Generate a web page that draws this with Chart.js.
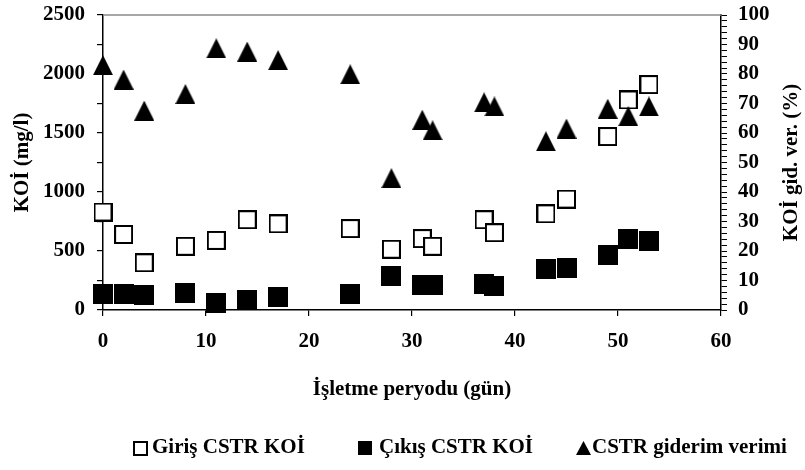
<!DOCTYPE html>
<html><head><meta charset="utf-8">
<script src="https://cdn.jsdelivr.net/npm/chart.js@4.4.1/dist/chart.umd.min.js"></script>
<style>html,body{margin:0;padding:0;background:#fff}#wrap{width:805px;height:470px;position:relative}</style>
</head><body><div id="wrap"><canvas id="c" width="805" height="470"></canvas></div>
<script>
// ---- data ----
const days      = [0, 2, 4, 8, 11, 14, 17, 24, 28, 31, 32, 37, 38, 43, 45, 49, 51, 53];
const girisKOI  = [830, 640, 400, 540, 590, 765, 730, 690, 515, 605, 540, 765, 655, 815, 940, 1470, 1780, 1910];
const cikisKOI  = [136, 136, 129, 141, 62, 87, 108, 136, 286, 213, 209, 223, 201, 346, 356, 463, 604, 585];
const verim     = [83.0, 78.1, 67.6, 73.2, 88.7, 87.6, 84.7, 79.9, 44.7, 64.5, 60.9, 70.4, 69.0, 57.2, 61.5, 68.2, 65.7, 69.0];
const seriesNames = ['Giriş CSTR KOİ', 'Çıkış CSTR KOİ', 'CSTR giderim verimi'];
const xTickLabels     = [0, 10, 20, 30, 40, 50, 60];
const leftTickLabels  = [0, 500, 1000, 1500, 2000, 2500];
const rightTickLabels = [0, 10, 20, 30, 40, 50, 60, 70, 80, 90, 100];
const xTitle = 'İşletme peryodu (gün)';
const yLeftTitle = 'KOİ (mg/l)';
const yRightTitle = 'KOİ gid. ver. (%)';

// ---- styling ----
const FONT = 'Liberation Serif';
const tickFont = {family: FONT, size: 21, weight: 'bold'};

function mk(w, h, draw) {
  const c = document.createElement('canvas');
  c.width = w; c.height = h;
  draw(c.getContext('2d'), w, h);
  return c;
}
const openSq = (s, lw) => mk(s, s, (g) => {
  g.fillStyle = '#fff'; g.fillRect(0, 0, s, s);
  g.strokeStyle = '#000'; g.lineWidth = lw; g.strokeRect(lw / 2, lw / 2, s - lw, s - lw);
});
const fillSq = (w, h) => mk(w, h, (g) => { g.fillStyle = '#000'; g.fillRect(0, 0, w, h); });
const tri = (w, h) => mk(w, h, (g) => {
  g.fillStyle = '#000'; g.beginPath(); g.moveTo(w / 2, 0); g.lineTo(w, h); g.lineTo(0, h); g.closePath(); g.fill();
});

const mOpen = openSq(19, 2), mFill = fillSq(20, 20), mTri = tri(20, 20);
const lOpen = openSq(15, 2), lFill = fillSq(14, 14), lTri = tri(15, 14);

const pts = (ys) => days.map((d, i) => ({x: d, y: ys[i]}));

const noPad = (s) => { s.paddingTop = 0; s.paddingBottom = 0; };

const extras = {
  id: 'extras',
  beforeDatasetsDraw(chart) {
    const {ctx, chartArea: a} = chart;
    ctx.save();
    ctx.strokeStyle = '#8a8a8a'; ctx.lineWidth = 1.5;
    ctx.beginPath(); ctx.moveTo(a.left, a.top); ctx.lineTo(a.right, a.top); ctx.stroke();
    ctx.restore();
  },
  afterDraw(chart) {
    const {ctx, chartArea: a} = chart;
    ctx.save();
    ctx.font = 'bold 21px "' + FONT + '"';
    ctx.fillStyle = '#000';
    ctx.translate(792, (a.top + a.bottom) / 2);
    ctx.rotate(-Math.PI / 2);
    ctx.textAlign = 'center'; ctx.textBaseline = 'middle';
    ctx.fillText(yRightTitle, 0, 0);
    ctx.restore();

    // legend
    const items = [
      {m: lOpen, mx: 140.5, tx: 152},
      {m: lFill, mx: 365, tx: 379},
      {m: lTri, mx: 583, tx: 592}
    ];
    const cy = 448;
    ctx.save();
    ctx.font = 'bold 21px "' + FONT + '"';
    ctx.fillStyle = '#000';
    ctx.textAlign = 'left'; ctx.textBaseline = 'middle';
    chart.data.datasets.forEach((ds, i) => {
      const it = items[i];
      ctx.drawImage(it.m, Math.round(it.mx - it.m.width / 2), Math.round(cy - it.m.height / 2));
      ctx.fillText(ds.label, it.tx, cy);
    });
    ctx.restore();
  }
};

new Chart(document.getElementById('c'), {
  type: 'scatter',
  data: {
    datasets: [
      {label: seriesNames[0], data: pts(girisKOI), yAxisID: 'y', pointStyle: mOpen, pointRadius: 10, order: 3, clip: false},
      {label: seriesNames[1], data: pts(cikisKOI), yAxisID: 'y', pointStyle: mFill, pointRadius: 10, order: 2, clip: false},
      {label: seriesNames[2], data: pts(verim), yAxisID: 'y2', pointStyle: mTri, pointRadius: 10, order: 1, clip: false}
    ]
  },
  options: {
    responsive: false,
    animation: false,
    devicePixelRatio: 1,
    layout: {padding: {left: 0, right: 0, top: 15, bottom: 60}},
    plugins: {legend: {display: false}, tooltip: {enabled: false}},
    scales: {
      x: {
        type: 'linear', position: 'bottom', min: 0, max: 60,
        afterFit: (s) => { s.height = 100; s.paddingLeft = 0; s.paddingRight = 0; },
        ticks: {stepSize: 10, autoSkip: false, maxRotation: 0, padding: 13, color: '#000', font: tickFont,
          callback: (v) => xTickLabels.includes(v) ? String(v) : ''},
        grid: {drawOnChartArea: false, drawTicks: true, tickLength: 6, color: '#000', lineWidth: 1.2},
        border: {display: true, color: '#000', width: 1.5},
        title: {display: true, text: xTitle, color: '#000', font: {family: FONT, size: 21, weight: 'bold', lineHeight: 1}, padding: {top: 0, bottom: 9.5}}
      },
      y: {
        type: 'linear', position: 'left', min: 0, max: 2500,
        afterFit: (s) => { s.width = 103; noPad(s); },
        ticks: {stepSize: 250, autoSkip: false, padding: 12, color: '#000', font: tickFont,
          callback: (v) => leftTickLabels.includes(v) ? String(v) : ''},
        grid: {drawOnChartArea: false, drawTicks: true, tickLength: 6, color: '#000', lineWidth: 1.2},
        border: {display: true, color: '#000', width: 1.5},
        title: {display: true, text: yLeftTitle, color: '#000', font: {family: FONT, size: 21, weight: 'bold', lineHeight: 1}, padding: {top: 12, bottom: 0}}
      },
      y2: {
        type: 'linear', position: 'right', min: 0, max: 100,
        afterFit: (s) => { s.width = 84; noPad(s); },
        ticks: {stepSize: 2, autoSkip: false, padding: 11, color: '#000', font: tickFont,
          callback: (v) => (Math.abs(v - Math.round(v)) < 1e-6 && rightTickLabels.includes(Math.round(v))) ? String(Math.round(v)) : ''},
        grid: {drawOnChartArea: false, drawTicks: true, tickLength: 6, color: '#000', lineWidth: 1},
        border: {display: true, color: '#000', width: 1.5},
        title: {display: false}
      }
    }
  },
  plugins: [extras]
});
</script>
</body></html>
